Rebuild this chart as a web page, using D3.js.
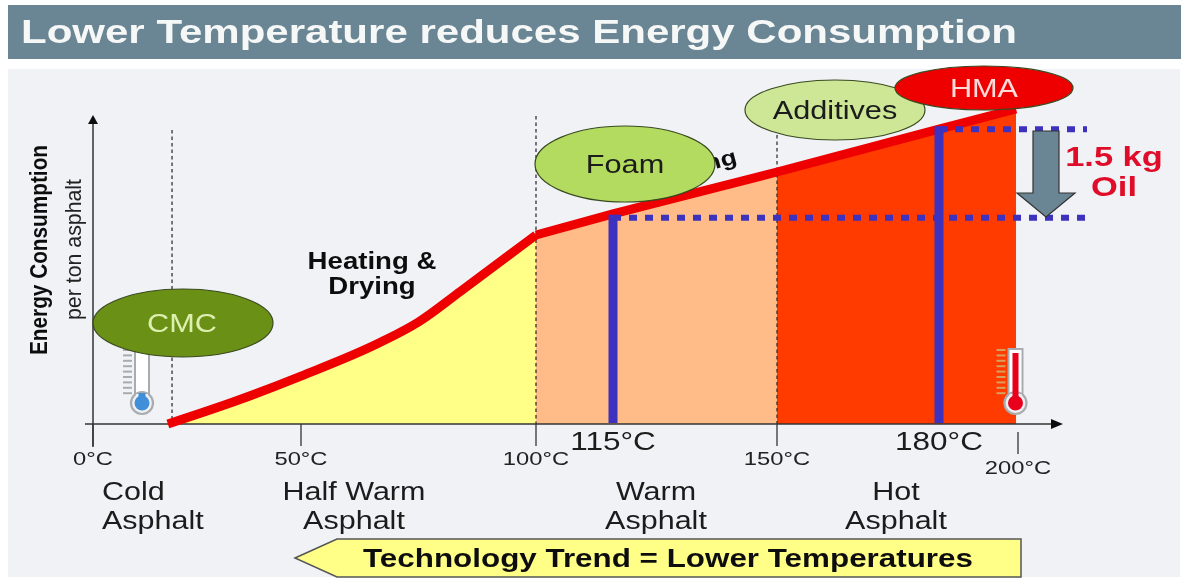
<!DOCTYPE html>
<html><head><meta charset="utf-8">
<script src="https://cdn.jsdelivr.net/npm/d3@7/dist/d3.min.js"></script>
<style>html,body{margin:0;background:#fff}svg{display:block}text{font-family:"Liberation Sans",Arial,sans-serif}</style>
</head><body><div id="c"></div>
<script>
const titleText = "Lower Temperature reduces Energy Consumption";
const axisStops = [0, 50, 100, 115, 150, 180, 200];
const tickTemps = [0, 50, 100, 150, 200];
const tickLabels = ["0°C", "50°C", "100°C", "150°C", "200°C"];
const curveTemps = [18, 35, 50, 67, 75, 84, 100];
const curveEnergy = [0, 7.6, 15.2, 26, 32.4, 42.2, 60];
const lineTemps = [100, 115, 150, 180, 199.5];
const lineEnergy = [60, 66.7, 80, 93.6, 100];
const markerTemps = [115, 180];
const markerLabels = ["115°C", "180°C"];
const markerEnergy = [65.5, 93.6];
const zones = ["Cold Asphalt", "Half Warm Asphalt", "Warm Asphalt", "Hot Asphalt"];
const bubbles = ["CMC", "Foam", "Additives", "HMA"];

const W = 1183, H = 581;
const x = d3.scaleLinear().domain(axisStops).range([93, 301, 536, 613, 777, 939, 1018]);
const y = d3.scaleLinear().domain([0, 100]).range([424, 109]);
const svg = d3.select("#c").append("svg").attr("width", W).attr("height", H);
svg.append("defs").append("filter").attr("id","soft").append("feGaussianBlur").attr("stdDeviation",0.5);
const root = svg.append("g").attr("filter","url(#soft)");

// widen text horizontally by a factor, as in the reference
function wide(sel, f){ sel.each(function(){ const n=this.getComputedTextLength();
  d3.select(this).attr("textLength",n*f).attr("lengthAdjust","spacingAndGlyphs"); }); return sel; }

// panels
root.append("rect").attr("x",8).attr("y",5).attr("width",1173).attr("height",54).attr("fill","#6B8694");
root.append("rect").attr("x",8).attr("y",69).attr("width",1172).attr("height",508).attr("fill","#F0F2F5");
root.append("text").text(titleText).attr("x",21).attr("y",43).attr("font-size",33).attr("font-weight",700)
  .attr("fill","#F6F8F8").attr("textLength",996).attr("lengthAdjust","spacingAndGlyphs");

// area fills
const curvePts = curveTemps.map((t,i)=>[t,curveEnergy[i]]);
const linePts = lineTemps.map((t,i)=>[t,lineEnergy[i]]);
const allPts = curvePts.concat(linePts.slice(1));
const energyAt = d3.scaleLinear().domain(allPts.map(d=>d[0])).range(allPts.map(d=>d[1]));
const area = d3.area().x(d=>x(d[0])).y0(y(0)).y1(d=>y(d[1]));
function seg(a,b){ const mid = allPts.filter(d=>d[0]>a&&d[0]<b);
  return [[a,energyAt(a)],...mid,[b,energyAt(b)]]; }
[[18,100,"#FFFF88"],[100,150,"#FFBB88"],[150,199.5,"#FF3A00"]].forEach(([a,b,c])=>{
  root.append("path").attr("d",area.curve(d3.curveLinear)(seg(a,b))).attr("fill",c);
});

// label mostly hidden behind the Foam bubble
wide(root.append("text").text("Mixing").attr("font-size",22).attr("font-weight",700).attr("fill","#111")
  .attr("text-anchor","end").attr("transform","translate(738,163) rotate(-15)"),1.2);

// dashed guides
[[19,130],[100,116],[150,135]].forEach(([t,top])=>{
  root.append("line").attr("x1",x(t)).attr("x2",x(t)).attr("y1",top).attr("y2",y(0))
    .attr("stroke","#333").attr("stroke-width",1.3).attr("stroke-dasharray","3.5,3");
});

// axes
const axisG = root.append("g").attr("fill","none").attr("stroke","#333").attr("stroke-width",1.5);
axisG.append("line").attr("x1",93).attr("x2",93).attr("y1",122).attr("y2",447);
axisG.append("line").attr("x1",85).attr("x2",1052).attr("y1",y(0)).attr("y2",y(0));
root.append("path").attr("d","M93,115L88,124L98,124Z").attr("fill","#111");
root.append("path").attr("d","M1063,424L1051,419L1051,429Z").attr("fill","#111");

tickTemps.forEach((t,i)=>{
  const off = t===200?8:0;
  root.append("line").attr("x1",x(t)).attr("x2",x(t)).attr("y1",y(0)+off).attr("y2",y(0)+22+off)
    .attr("stroke","#333").attr("stroke-width",1.3);
  wide(root.append("text").text(tickLabels[i]).attr("x",x(t)).attr("y",y(0)+41+off+(t===200?1:0))
    .attr("text-anchor","middle").attr("font-size",19).attr("fill","#222"),1.25);
});

// energy lines
root.append("path").attr("d",d3.line().x(d=>x(d[0])).y(d=>y(d[1])).curve(d3.curveMonotoneX)(curvePts))
  .attr("fill","none").attr("stroke","#EE0000").attr("stroke-width",9);
root.append("path").attr("d",d3.line().x(d=>x(d[0])).y(d=>y(d[1]))(linePts))
  .attr("fill","none").attr("stroke","#EE0000").attr("stroke-width",9);

// blue markers
markerTemps.forEach((t,i)=>{
  root.append("line").attr("x1",x(t)).attr("x2",x(t)).attr("y1",y(markerEnergy[i])-3).attr("y2",y(0)-1)
    .attr("stroke","#3C30BE").attr("stroke-width",9);
  root.append("line").attr("x1",x(t)).attr("x2",1087).attr("y1",y(markerEnergy[i])).attr("y2",y(markerEnergy[i]))
    .attr("stroke","#3C30BE").attr("stroke-width",6).attr("stroke-dasharray","8,8");
  wide(root.append("text").text(markerLabels[i]).attr("x",x(t)).attr("y",450).attr("text-anchor","middle")
    .attr("font-size",26).attr("fill","#1a1a1a"),1.21);
});

// grey arrow
root.append("path").attr("d","M1033,131H1059V193H1075L1046,217L1017,193H1033Z").attr("fill","#6B8694").attr("stroke","#333").attr("stroke-width",1.2);
["1.5 kg","Oil"].forEach((s,i)=>wide(root.append("text").text(s).attr("x",1114).attr("y",166+i*30).attr("text-anchor","middle")
  .attr("font-size",28).attr("font-weight",700).attr("fill","#E0102A"),1.23));

["Heating &","Drying"].forEach((s,i)=>wide(root.append("text").text(s).attr("x",372).attr("y",269+i*25).attr("text-anchor","middle")
  .attr("font-size",23).attr("font-weight",700).attr("fill","#111"),1.2));

// thermometers
function thermo(cx, top, color, fillTop, stem, halfW, innerW){
  const g = root.append("g");
  for(let k=0;k<9;k++) g.append("line").attr("x1",cx-19).attr("x2",cx-10).attr("y1",top+k*5.4).attr("y2",top+k*5.4).attr("stroke",stem).attr("stroke-width",2);
  g.append("rect").attr("x",cx-halfW).attr("y",top-1).attr("width",halfW*2).attr("height",48).attr("fill","#fff").attr("stroke","#a8acb0").attr("stroke-width",2);
  g.append("circle").attr("cx",cx).attr("cy",top+53).attr("r",11).attr("fill","#EEF0F4").attr("stroke","#a8acb0").attr("stroke-width",2.2);
  g.append("rect").attr("x",cx-halfW+1).attr("y",top+44).attr("width",halfW*2-2).attr("height",6).attr("fill","#EEF0F4");
  g.append("rect").attr("x",cx-innerW/2).attr("y",fillTop).attr("width",innerW).attr("height",top+53-fillTop).attr("fill",color);
  g.append("circle").attr("cx",cx).attr("cy",top+53).attr("r",7.5).attr("fill",color);
}
thermo(142, 350, "#3F8FD8", 393, "#a8acb0", 7, 7);
thermo(1015.5, 350, "#E8001C", 353, "#D8A060", 7, 6);

// bubbles
const bubbleX = [183, 625, 835, 984], bubbleY = [323, 164, 110, 88], bubbleRx = [90, 90, 90, 89], bubbleRy = [34, 38, 30, 22];
const bubbleFill = ["#6B9016", "#B3DB5E", "#CDE797", "#EE0000"], bubbleText = ["#DDF0B0", "#1a1a1a", "#1a1a1a", "#FFDCDC"];
bubbles.forEach((b,i)=>{
  root.append("ellipse").attr("cx",bubbleX[i]).attr("cy",bubbleY[i]).attr("rx",bubbleRx[i]).attr("ry",bubbleRy[i])
    .attr("fill",bubbleFill[i]).attr("stroke","#3a4a20").attr("stroke-width",1.2);
  wide(root.append("text").text(b).attr("x",bubbleX[i]-(i===0?1:0)).attr("y",bubbleY[i]+9).attr("text-anchor","middle").attr("font-size",26).attr("fill",bubbleText[i]),1.18);
});

// rotated y titles
root.append("text").text("Energy Consumption").attr("transform","translate(47,355) rotate(-90)")
  .attr("font-size",24).attr("font-weight",700).attr("fill","#111").attr("textLength",210).attr("lengthAdjust","spacingAndGlyphs");
root.append("text").text("per ton asphalt").attr("transform","translate(81,320) rotate(-90)")
  .attr("font-size",22).attr("fill","#222").attr("textLength",141).attr("lengthAdjust","spacingAndGlyphs");

// zone labels
const zoneX = [102, 354, 656, 896], zoneAnchor = ["start","middle","middle","middle"];
zones.forEach((z,i)=>{
  const parts = i===1 ? ["Half Warm","Asphalt"] : z.split(" ");
  parts.forEach((p,k)=>wide(root.append("text").text(p).attr("x",zoneX[i]).attr("y",500+k*29)
    .attr("text-anchor",zoneAnchor[i]).attr("font-size",25).attr("fill","#1a1a1a"),1.22));
});

// trend arrow
root.append("path").attr("d","M295,558L337,539H1021V577H337Z").attr("fill","#FFFF88").attr("stroke","#555").attr("stroke-width",1.5);
root.append("text").text("Technology Trend = Lower Temperatures").attr("x",668).attr("y",567).attr("text-anchor","middle")
  .attr("font-size",25).attr("font-weight",700).attr("fill","#111").attr("textLength",610).attr("lengthAdjust","spacingAndGlyphs");
</script></body></html>
